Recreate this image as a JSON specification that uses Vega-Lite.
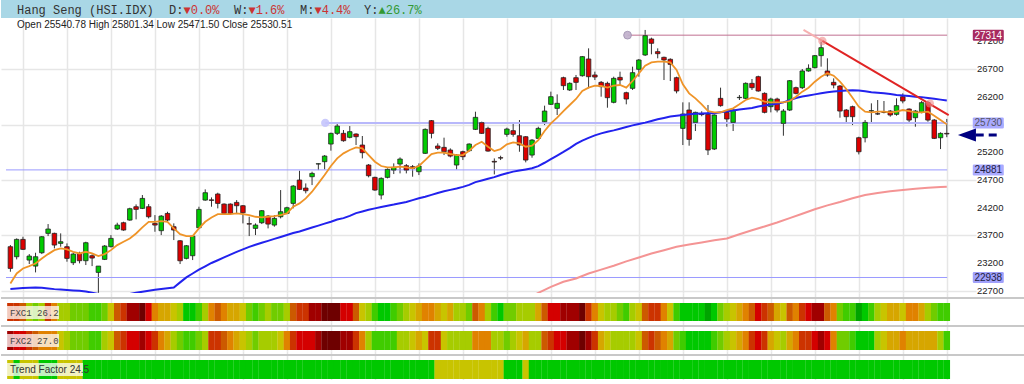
{
"$schema": "https://vega.github.io/schema/vega-lite/v6.json",
"padding": 0,
"autosize": {"type": "pad"},
"background": "white",
"spacing": 0,
"bounds": "flush",
"config": {"view": {"stroke": null}, "axis": {"gridColor": "#e6e6e6", "gridWidth": 1.5, "domain": false, "ticks": false, "labels": false}},
"datasets": {
"bars": [
{"i":0,"o":23494,"h":23524,"l":23042,"c":23102,"m10":22830,"m50":22730,"f1":4,"f2":2,"tf":8},
{"i":1,"o":23313,"h":23644,"l":23265,"c":23626,"m10":23011,"m50":22740,"f1":4,"f2":3,"tf":12},
{"i":2,"o":23626,"h":23674,"l":23434,"c":23446,"m10":23101,"m50":22748,"f1":5,"f2":3,"tf":8},
{"i":3,"o":23253,"h":23361,"l":23181,"c":23325,"m10":23143,"m50":22755,"f1":9,"f2":4,"tf":8},
{"i":4,"o":23144,"h":23385,"l":23030,"c":23313,"m10":23191,"m50":22758,"f1":10,"f2":5,"tf":8},
{"i":5,"o":23385,"h":23686,"l":23361,"c":23674,"m10":23282,"m50":22752,"f1":9,"f2":6,"tf":12},
{"i":6,"o":23735,"h":23903,"l":23686,"c":23813,"m10":23360,"m50":22740,"f1":4,"f2":6,"tf":12},
{"i":7,"o":23735,"h":23747,"l":23464,"c":23524,"m10":23432,"m50":22728,"f1":6,"f2":6,"tf":12},
{"i":8,"o":23554,"h":23735,"l":23494,"c":23584,"m10":23462,"m50":22720,"f1":9,"f2":8,"tf":8},
{"i":9,"o":23494,"h":23554,"l":23223,"c":23283,"m10":23444,"m50":22712,"f1":9,"f2":9,"tf":8},
{"i":10,"o":23205,"h":23385,"l":23163,"c":23361,"m10":23402,"m50":22705,"f1":10,"f2":10,"tf":8},
{"i":11,"o":23373,"h":23403,"l":23193,"c":23241,"m10":23372,"m50":22698,"f1":10,"f2":10,"tf":8},
{"i":12,"o":23241,"h":23584,"l":23163,"c":23566,"m10":23402,"m50":22685,"f1":10,"f2":10,"tf":12},
{"i":13,"o":23331,"h":23355,"l":23144,"c":23289,"m10":23372,"m50":22665,"f1":11,"f2":11,"tf":12},
{"i":14,"o":23030,"h":23144,"l":22661,"c":23144,"m10":23324,"m50":22640,"f1":11,"f2":11,"tf":12},
{"i":15,"o":23265,"h":23524,"l":23253,"c":23506,"m10":23360,"m50":22625,"f1":10,"f2":9,"tf":12},
{"i":16,"o":23494,"h":23704,"l":23482,"c":23644,"m10":23432,"m50":22615,"f1":8,"f2":8,"tf":12},
{"i":17,"o":23813,"h":23927,"l":23795,"c":23885,"m10":23523,"m50":22612,"f1":5,"f2":5,"tf":12},
{"i":18,"o":23927,"h":23945,"l":23783,"c":23795,"m10":23583,"m50":22620,"f1":4,"f2":4,"tf":12},
{"i":19,"o":23975,"h":24198,"l":23963,"c":24180,"m10":23643,"m50":22640,"f1":2,"f2":3,"tf":12},
{"i":20,"o":24216,"h":24258,"l":23987,"c":24168,"m10":23733,"m50":22661,"f1":2,"f2":3,"tf":12},
{"i":21,"o":24186,"h":24427,"l":24174,"c":24366,"m10":23842,"m50":22680,"f1":1,"f2":2,"tf":12},
{"i":22,"o":24216,"h":24264,"l":24005,"c":24035,"m10":23944,"m50":22700,"f1":3,"f2":3,"tf":12},
{"i":23,"o":23915,"h":24065,"l":23764,"c":23885,"m10":23944,"m50":22715,"f1":6,"f2":4,"tf":12},
{"i":24,"o":23783,"h":24065,"l":23704,"c":24047,"m10":23956,"m50":22730,"f1":7,"f2":6,"tf":12},
{"i":25,"o":24095,"h":24125,"l":23945,"c":23975,"m10":23944,"m50":22745,"f1":7,"f2":7,"tf":12},
{"i":26,"o":23855,"h":23915,"l":23614,"c":23795,"m10":23824,"m50":22758,"f1":8,"f2":9,"tf":12},
{"i":27,"o":23601,"h":23613,"l":23181,"c":23240,"m10":23721,"m50":22850,"f1":9,"f2":10,"tf":12},
{"i":28,"o":23283,"h":23524,"l":23265,"c":23511,"m10":23685,"m50":22940,"f1":12,"f2":11,"tf":12},
{"i":29,"o":23331,"h":23698,"l":23253,"c":23686,"m10":23685,"m50":23010,"f1":12,"f2":11,"tf":12},
{"i":30,"o":23837,"h":24216,"l":23819,"c":24168,"m10":23824,"m50":23080,"f1":11,"f2":10,"tf":12},
{"i":31,"o":24336,"h":24529,"l":24324,"c":24469,"m10":23944,"m50":23140,"f1":9,"f2":9,"tf":12},
{"i":32,"o":24340,"h":24384,"l":24216,"c":24330,"m10":24023,"m50":23200,"f1":6,"f2":4,"tf":12},
{"i":33,"o":24445,"h":24469,"l":24186,"c":24276,"m10":24083,"m50":23250,"f1":5,"f2":4,"tf":12},
{"i":34,"o":24264,"h":24276,"l":24083,"c":24095,"m10":24083,"m50":23300,"f1":6,"f2":5,"tf":12},
{"i":35,"o":24264,"h":24276,"l":24083,"c":24095,"m10":24083,"m50":23350,"f1":7,"f2":6,"tf":12},
{"i":36,"o":24294,"h":24336,"l":24095,"c":24234,"m10":24095,"m50":23400,"f1":7,"f2":7,"tf":12},
{"i":37,"o":24234,"h":24246,"l":23915,"c":24107,"m10":24083,"m50":23445,"f1":8,"f2":8,"tf":12},
{"i":38,"o":23910,"h":24035,"l":23686,"c":23902,"m10":24065,"m50":23490,"f1":10,"f2":9,"tf":12},
{"i":39,"o":23825,"h":23915,"l":23704,"c":23885,"m10":24035,"m50":23530,"f1":11,"f2":10,"tf":12},
{"i":40,"o":23927,"h":24156,"l":23903,"c":24144,"m10":24023,"m50":23565,"f1":10,"f2":9,"tf":12},
{"i":41,"o":24047,"h":24065,"l":23825,"c":23903,"m10":24035,"m50":23600,"f1":9,"f2":9,"tf":12},
{"i":42,"o":23885,"h":24065,"l":23855,"c":24005,"m10":24047,"m50":23635,"f1":10,"f2":9,"tf":12},
{"i":43,"o":24035,"h":24517,"l":24005,"c":24126,"m10":24065,"m50":23670,"f1":10,"f2":8,"tf":12},
{"i":44,"o":24096,"h":24216,"l":24083,"c":24198,"m10":24095,"m50":23705,"f1":9,"f2":6,"tf":12},
{"i":45,"o":24276,"h":24607,"l":24186,"c":24589,"m10":24216,"m50":23740,"f1":5,"f2":4,"tf":12},
{"i":46,"o":24698,"h":24866,"l":24517,"c":24529,"m10":24276,"m50":23770,"f1":4,"f2":3,"tf":12},
{"i":47,"o":24553,"h":24637,"l":24457,"c":24505,"m10":24366,"m50":23805,"f1":4,"f2":3,"tf":12},
{"i":48,"o":24758,"h":24848,"l":24607,"c":24818,"m10":24487,"m50":23840,"f1":2,"f2":3,"tf":12},
{"i":49,"o":24987,"h":24999,"l":24878,"c":24992,"m10":24637,"m50":23875,"f1":2,"f2":2,"tf":12},
{"i":50,"o":25029,"h":25149,"l":24890,"c":25131,"m10":24788,"m50":23910,"f1":1,"f2":1,"tf":12},
{"i":51,"o":25348,"h":25553,"l":25228,"c":25541,"m10":24951,"m50":23945,"f1":1,"f2":1,"tf":12},
{"i":52,"o":25541,"h":25734,"l":25511,"c":25673,"m10":25089,"m50":23985,"f1":1,"f2":1,"tf":12},
{"i":53,"o":25541,"h":25601,"l":25390,"c":25408,"m10":25180,"m50":24010,"f1":3,"f2":2,"tf":12},
{"i":54,"o":25469,"h":25673,"l":25451,"c":25571,"m10":25240,"m50":24050,"f1":3,"f2":2,"tf":12},
{"i":55,"o":25529,"h":25541,"l":25330,"c":25481,"m10":25288,"m50":24100,"f1":5,"f2":4,"tf":12},
{"i":56,"o":25330,"h":25493,"l":25089,"c":25192,"m10":25270,"m50":24130,"f1":8,"f2":6,"tf":12},
{"i":57,"o":24969,"h":24987,"l":24746,"c":24776,"m10":25149,"m50":24160,"f1":9,"f2":9,"tf":12},
{"i":58,"o":24746,"h":24758,"l":24505,"c":24517,"m10":25029,"m50":24186,"f1":11,"f2":11,"tf":12},
{"i":59,"o":24427,"h":24746,"l":24348,"c":24728,"m10":24951,"m50":24210,"f1":12,"f2":11,"tf":12},
{"i":60,"o":24746,"h":24908,"l":24728,"c":24891,"m10":24927,"m50":24235,"f1":12,"f2":11,"tf":12},
{"i":61,"o":24878,"h":24999,"l":24806,"c":24927,"m10":24927,"m50":24255,"f1":11,"f2":11,"tf":12},
{"i":62,"o":24987,"h":25107,"l":24818,"c":25077,"m10":24939,"m50":24280,"f1":10,"f2":9,"tf":12},
{"i":63,"o":24957,"h":24987,"l":24818,"c":24878,"m10":24927,"m50":24300,"f1":9,"f2":9,"tf":12},
{"i":64,"o":24939,"h":24969,"l":24758,"c":24908,"m10":24909,"m50":24335,"f1":8,"f2":8,"tf":12},
{"i":65,"o":24848,"h":24999,"l":24788,"c":24951,"m10":24951,"m50":24370,"f1":7,"f2":7,"tf":12},
{"i":66,"o":25180,"h":25631,"l":25168,"c":25613,"m10":25059,"m50":24397,"f1":6,"f2":8,"tf":12},
{"i":67,"o":25770,"h":25782,"l":25450,"c":25541,"m10":25168,"m50":24430,"f1":6,"f2":4,"tf":12},
{"i":68,"o":25312,"h":25360,"l":25240,"c":25270,"m10":25192,"m50":24465,"f1":7,"f2":4,"tf":8},
{"i":69,"o":25288,"h":25463,"l":25149,"c":25210,"m10":25192,"m50":24495,"f1":8,"f2":8,"tf":8},
{"i":70,"o":25240,"h":25270,"l":25107,"c":25131,"m10":25168,"m50":24520,"f1":7,"f2":9,"tf":8},
{"i":71,"o":24969,"h":25168,"l":24890,"c":25149,"m10":25149,"m50":24545,"f1":9,"f2":9,"tf":8},
{"i":72,"o":25210,"h":25228,"l":25059,"c":25119,"m10":25149,"m50":24575,"f1":9,"f2":9,"tf":8},
{"i":73,"o":25228,"h":25360,"l":25210,"c":25348,"m10":25228,"m50":24610,"f1":10,"f2":9,"tf":8},
{"i":74,"o":25613,"h":25932,"l":25601,"c":25830,"m10":25330,"m50":24660,"f1":5,"f2":6,"tf":8},
{"i":75,"o":25734,"h":25752,"l":25529,"c":25541,"m10":25390,"m50":24690,"f1":6,"f2":6,"tf":8},
{"i":76,"o":25631,"h":25661,"l":25210,"c":25221,"m10":25300,"m50":24720,"f1":9,"f2":6,"tf":8},
{"i":77,"o":25035,"h":25089,"l":24800,"c":25023,"m10":25221,"m50":24750,"f1":11,"f2":9,"tf":8},
{"i":78,"o":25101,"h":25137,"l":25059,"c":25095,"m10":25257,"m50":24790,"f1":12,"f2":9,"tf":8},
{"i":79,"o":25523,"h":25643,"l":25480,"c":25619,"m10":25342,"m50":24820,"f1":10,"f2":10,"tf":12},
{"i":80,"o":25589,"h":25721,"l":25480,"c":25523,"m10":25378,"m50":24850,"f1":10,"f2":9,"tf":12},
{"i":81,"o":25498,"h":25782,"l":25209,"c":25330,"m10":25360,"m50":24870,"f1":9,"f2":8,"tf":12},
{"i":82,"o":25480,"h":25492,"l":25017,"c":25059,"m10":25300,"m50":24890,"f1":9,"f2":7,"tf":8},
{"i":83,"o":25149,"h":25438,"l":25101,"c":25420,"m10":25318,"m50":24910,"f1":9,"f2":9,"tf":12},
{"i":84,"o":25450,"h":25661,"l":25438,"c":25631,"m10":25420,"m50":24950,"f1":7,"f2":9,"tf":12},
{"i":85,"o":25751,"h":26041,"l":25691,"c":25944,"m10":25583,"m50":25010,"f1":5,"f2":5,"tf":12},
{"i":86,"o":26065,"h":26294,"l":26053,"c":26203,"m10":25721,"m50":25075,"f1":3,"f2":4,"tf":12},
{"i":87,"o":25992,"h":26245,"l":25872,"c":26083,"m10":25824,"m50":25140,"f1":3,"f2":3,"tf":12},
{"i":88,"o":26546,"h":26564,"l":26324,"c":26402,"m10":25944,"m50":25205,"f1":2,"f2":3,"tf":12},
{"i":89,"o":26324,"h":26462,"l":26306,"c":26444,"m10":26053,"m50":25275,"f1":2,"f2":2,"tf":12},
{"i":90,"o":26546,"h":26595,"l":26324,"c":26462,"m10":26161,"m50":25350,"f1":2,"f2":2,"tf":12},
{"i":91,"o":26582,"h":26938,"l":26564,"c":26926,"m10":26306,"m50":25410,"f1":1,"f2":1,"tf":12},
{"i":92,"o":26884,"h":27076,"l":26354,"c":26564,"m10":26366,"m50":25460,"f1":4,"f2":2,"tf":12},
{"i":93,"o":26595,"h":26655,"l":26504,"c":26558,"m10":26402,"m50":25505,"f1":6,"f2":4,"tf":12},
{"i":94,"o":26462,"h":26486,"l":26203,"c":26384,"m10":26396,"m50":25540,"f1":8,"f2":7,"tf":12},
{"i":95,"o":26444,"h":26474,"l":26004,"c":26185,"m10":26366,"m50":25570,"f1":9,"f2":8,"tf":12},
{"i":96,"o":26101,"h":26564,"l":26083,"c":26534,"m10":26402,"m50":25595,"f1":9,"f2":9,"tf":12},
{"i":97,"o":26552,"h":26655,"l":26414,"c":26504,"m10":26414,"m50":25625,"f1":10,"f2":9,"tf":12},
{"i":98,"o":26275,"h":26293,"l":26065,"c":26161,"m10":26366,"m50":25655,"f1":11,"f2":9,"tf":12},
{"i":99,"o":26354,"h":26745,"l":26324,"c":26637,"m10":26486,"m50":25685,"f1":9,"f2":9,"tf":12},
{"i":100,"o":26697,"h":26884,"l":26564,"c":26866,"m10":26625,"m50":25710,"f1":8,"f2":8,"tf":12},
{"i":101,"o":26956,"h":27408,"l":26938,"c":27305,"m10":26763,"m50":25735,"f1":5,"f2":5,"tf":12},
{"i":102,"o":27245,"h":27269,"l":26968,"c":27167,"m10":26823,"m50":25765,"f1":4,"f2":4,"tf":12},
{"i":103,"o":27016,"h":27076,"l":26896,"c":26980,"m10":26835,"m50":25795,"f1":4,"f2":5,"tf":12},
{"i":104,"o":26914,"h":26926,"l":26504,"c":26866,"m10":26835,"m50":25820,"f1":6,"f2":6,"tf":12},
{"i":105,"o":26878,"h":26896,"l":26486,"c":26787,"m10":26823,"m50":25845,"f1":8,"f2":7,"tf":12},
{"i":106,"o":26546,"h":26564,"l":26263,"c":26306,"m10":26685,"m50":25860,"f1":11,"f2":10,"tf":12},
{"i":107,"o":25631,"h":26101,"l":25330,"c":25890,"m10":26426,"m50":25872,"f1":12,"f2":11,"tf":12},
{"i":108,"o":25962,"h":26101,"l":25318,"c":25432,"m10":26263,"m50":25885,"f1":12,"f2":12,"tf":12},
{"i":109,"o":25739,"h":25932,"l":25583,"c":25920,"m10":26173,"m50":25895,"f1":12,"f2":12,"tf":12},
{"i":110,"o":25890,"h":25940,"l":25850,"c":25880,"m10":26065,"m50":25900,"f1":12,"f2":12,"tf":12},
{"i":111,"o":25884,"h":26053,"l":25149,"c":25240,"m10":25944,"m50":25902,"f1":13,"f2":12,"tf":12},
{"i":112,"o":25258,"h":25884,"l":25240,"c":25872,"m10":25920,"m50":25905,"f1":12,"f2":11,"tf":12},
{"i":113,"o":26173,"h":26366,"l":26023,"c":26041,"m10":25920,"m50":25920,"f1":10,"f2":10,"tf":12},
{"i":114,"o":25920,"h":25944,"l":25661,"c":25800,"m10":25962,"m50":25940,"f1":9,"f2":9,"tf":12},
{"i":115,"o":25739,"h":25980,"l":25583,"c":25962,"m10":25992,"m50":25955,"f1":8,"f2":8,"tf":12},
{"i":116,"o":26185,"h":26233,"l":26143,"c":26191,"m10":26065,"m50":25970,"f1":7,"f2":7,"tf":12},
{"i":117,"o":26173,"h":26462,"l":26161,"c":26444,"m10":26143,"m50":25985,"f1":6,"f2":6,"tf":12},
{"i":118,"o":26444,"h":26522,"l":26324,"c":26366,"m10":26185,"m50":26000,"f1":5,"f2":4,"tf":12},
{"i":119,"o":26564,"h":26582,"l":26293,"c":26306,"m10":26161,"m50":26025,"f1":3,"f2":3,"tf":12},
{"i":120,"o":26263,"h":26281,"l":25902,"c":25920,"m10":26113,"m50":26045,"f1":4,"f2":4,"tf":12},
{"i":121,"o":26023,"h":26185,"l":25920,"c":26161,"m10":26101,"m50":26060,"f1":5,"f2":7,"tf":12},
{"i":122,"o":26161,"h":26185,"l":25920,"c":25962,"m10":26101,"m50":26075,"f1":7,"f2":8,"tf":12},
{"i":123,"o":25721,"h":25980,"l":25498,"c":25944,"m10":26101,"m50":26100,"f1":8,"f2":9,"tf":12},
{"i":124,"o":25962,"h":26504,"l":25944,"c":26492,"m10":26125,"m50":26140,"f1":5,"f2":7,"tf":12},
{"i":125,"o":26366,"h":26384,"l":26245,"c":26263,"m10":26203,"m50":26180,"f1":6,"f2":6,"tf":12},
{"i":126,"o":26366,"h":26703,"l":26341,"c":26667,"m10":26294,"m50":26205,"f1":4,"f2":4,"tf":12},
{"i":127,"o":26667,"h":26787,"l":26655,"c":26715,"m10":26366,"m50":26225,"f1":3,"f2":4,"tf":12},
{"i":128,"o":26727,"h":26956,"l":26715,"c":26944,"m10":26474,"m50":26245,"f1":2,"f2":3,"tf":12},
{"i":129,"o":26944,"h":27197,"l":26745,"c":27088,"m10":26564,"m50":26265,"f1":2,"f2":2,"tf":12},
{"i":130,"o":26667,"h":26896,"l":26564,"c":26594,"m10":26625,"m50":26285,"f1":5,"f2":3,"tf":12},
{"i":131,"o":26462,"h":26534,"l":26354,"c":26414,"m10":26582,"m50":26295,"f1":6,"f2":6,"tf":12},
{"i":132,"o":26396,"h":26414,"l":25824,"c":25944,"m10":26474,"m50":26305,"f1":10,"f2":10,"tf":12},
{"i":133,"o":25962,"h":25980,"l":25739,"c":25842,"m10":26342,"m50":26315,"f1":11,"f2":10,"tf":12},
{"i":134,"o":26023,"h":26041,"l":25691,"c":25842,"m10":26185,"m50":26318,"f1":11,"f2":11,"tf":12},
{"i":135,"o":25462,"h":25480,"l":25161,"c":25209,"m10":26023,"m50":26315,"f1":13,"f2":12,"tf":12},
{"i":136,"o":25462,"h":25782,"l":25378,"c":25739,"m10":25932,"m50":26300,"f1":12,"f2":12,"tf":12},
{"i":137,"o":25944,"h":26083,"l":25739,"c":25950,"m10":25920,"m50":26285,"f1":11,"f2":12,"tf":12},
{"i":138,"o":25895,"h":26143,"l":25872,"c":25890,"m10":25932,"m50":26275,"f1":9,"f2":9,"tf":12},
{"i":139,"o":25926,"h":26125,"l":25902,"c":25920,"m10":25932,"m50":26265,"f1":8,"f2":8,"tf":12},
{"i":140,"o":25944,"h":25962,"l":25842,"c":25872,"m10":25920,"m50":26250,"f1":7,"f2":7,"tf":12},
{"i":141,"o":25884,"h":26173,"l":25860,"c":26041,"m10":25932,"m50":26235,"f1":7,"f2":7,"tf":12},
{"i":142,"o":26203,"h":26263,"l":26083,"c":26125,"m10":25962,"m50":26225,"f1":8,"f2":6,"tf":12},
{"i":143,"o":25980,"h":25992,"l":25721,"c":25781,"m10":25944,"m50":26215,"f1":6,"f2":7,"tf":12},
{"i":144,"o":25824,"h":25962,"l":25661,"c":25944,"m10":25920,"m50":26203,"f1":6,"f2":7,"tf":12},
{"i":145,"o":25920,"h":26125,"l":25902,"c":26095,"m10":25920,"m50":26195,"f1":7,"f2":7,"tf":12},
{"i":146,"o":26095,"h":26125,"l":25751,"c":25781,"m10":25932,"m50":26180,"f1":9,"f2":7,"tf":12},
{"i":147,"o":25781,"h":25800,"l":25438,"c":25450,"m10":25860,"m50":26165,"f1":10,"f2":7,"tf":12},
{"i":148,"o":25462,"h":25559,"l":25257,"c":25540,"m10":25782,"m50":26150,"f1":11,"f2":9,"tf":12},
{"i":149,"o":25540.78,"h":25801.34,"l":25471.5,"c":25530.51,"m10":25703,"m50":26135,"f1":11,"f2":11,"tf":12}
],
"ma200": [
{"i":82,"v":22540},{"i":84,"v":22660},{"i":86,"v":22770},{"i":88,"v":22860},{"i":90,"v":22920},{"i":92,"v":23010},{"i":94,"v":23080},{"i":96,"v":23150},{"i":98,"v":23230},{"i":100,"v":23300},{"i":102,"v":23370},{"i":104,"v":23430},{"i":106,"v":23493},{"i":108,"v":23535},{"i":110,"v":23570},{"i":112,"v":23610},{"i":114,"v":23643},{"i":116,"v":23720},{"i":118,"v":23790},{"i":120,"v":23860},{"i":122,"v":23930},{"i":124,"v":24010},{"i":126,"v":24090},{"i":128,"v":24170},{"i":130,"v":24240},{"i":132,"v":24300},{"i":134,"v":24370},{"i":136,"v":24427},{"i":138,"v":24465},{"i":140,"v":24495},{"i":142,"v":24520},{"i":144,"v":24540},{"i":146,"v":24557},{"i":148,"v":24570},{"i":149,"v":24577}
]
},
"vconcat": [
{
"width": 1024, "height": 18,
"data": {"values": [{}]},
"layer": [
{"mark": {"type": "rect", "fill": "#a9d7e6"}, "encoding": {"x": {"value": 0}, "x2": {"value": 1024}, "y": {"value": 0}, "y2": {"value": 18}}},
{"mark": {"type": "text", "font": "Liberation Mono", "fontSize": 12, "align": "left", "baseline": "middle", "fill": "#333"}, "encoding": {"x": {"value": 16}, "y": {"value": 9.5}, "text": {"value": "Hang Seng (HSI.IDX)"}}},
{"mark": {"type": "text", "font": "Liberation Mono", "fontSize": 12, "align": "left", "baseline": "middle", "fill": "#333"}, "encoding": {"x": {"value": 168}, "y": {"value": 9.5}, "text": {"value": "D:"}}},
{"mark": {"type": "text", "font": "Liberation Mono", "fontSize": 12, "align": "left", "baseline": "middle", "fill": "#cc3333"}, "encoding": {"x": {"value": 182.5}, "y": {"value": 9.5}, "text": {"value": "▼0.0%"}}},
{"mark": {"type": "text", "font": "Liberation Mono", "fontSize": 12, "align": "left", "baseline": "middle", "fill": "#333"}, "encoding": {"x": {"value": 233}, "y": {"value": 9.5}, "text": {"value": "W:"}}},
{"mark": {"type": "text", "font": "Liberation Mono", "fontSize": 12, "align": "left", "baseline": "middle", "fill": "#cc3333"}, "encoding": {"x": {"value": 247.5}, "y": {"value": 9.5}, "text": {"value": "▼1.6%"}}},
{"mark": {"type": "text", "font": "Liberation Mono", "fontSize": 12, "align": "left", "baseline": "middle", "fill": "#333"}, "encoding": {"x": {"value": 299}, "y": {"value": 9.5}, "text": {"value": "M:"}}},
{"mark": {"type": "text", "font": "Liberation Mono", "fontSize": 12, "align": "left", "baseline": "middle", "fill": "#cc3333"}, "encoding": {"x": {"value": 313.5}, "y": {"value": 9.5}, "text": {"value": "▼4.4%"}}},
{"mark": {"type": "text", "font": "Liberation Mono", "fontSize": 12, "align": "left", "baseline": "middle", "fill": "#333"}, "encoding": {"x": {"value": 363}, "y": {"value": 9.5}, "text": {"value": "Y:"}}},
{"mark": {"type": "text", "font": "Liberation Mono", "fontSize": 12, "align": "left", "baseline": "middle", "fill": "#339933"}, "encoding": {"x": {"value": 377.5}, "y": {"value": 9.5}, "text": {"value": "▲26.7%"}}}
]
},
{
"width": 975, "height": 275,
"data": {"name": "bars"},
"layer": [
{"mark": {"type": "rule", "color": "#333", "strokeWidth": 1},
 "encoding": {
  "x": {"field": "i", "type": "quantitative", "title": null, "scale": {"domain": [-0.7, 152.85], "nice": false, "zero": false}, "axis": {"values": [2,9,16,23,30,37,44,51,58,65,72,79,86,93,100,107,114,121,128,135,142,149], "grid": true, "title": null}},
  "y": {"field": "l", "type": "quantitative", "title": null, "scale": {"domain": [22658, 27624], "nice": false, "zero": false}, "axis": {"orient": "right", "values": [22700,23200,23700,24200,24700,25200,25700,26200,26700,27200], "grid": true, "title": null}},
  "y2": {"field": "h"}}},
{"data": {"values": [{"t": 22700}, {"t": 23200}, {"t": 23700}, {"t": 24200}, {"t": 24700}, {"t": 25200}, {"t": 25700}, {"t": 26200}, {"t": 26700}, {"t": 27200}]},
 "mark": {"type": "text", "font": "Liberation Sans", "fontSize": 9.5, "align": "left", "baseline": "middle", "dx": 6, "fill": "#222"},
 "encoding": {"x": {"datum": 152.85, "type": "quantitative", "title": null}, "y": {"field": "t", "type": "quantitative", "title": null}, "text": {"field": "t", "type": "quantitative", "format": "d"}}},
{"data": {"values": [{"x1": -0.7, "x2": 149.05, "y": 24881}, {"x1": -0.7, "x2": 149.05, "y": 22938}]},
 "mark": {"type": "rule", "color": "#9a9aff", "strokeWidth": 1},
 "encoding": {"x": {"field": "x1", "type": "quantitative", "title": null}, "x2": {"field": "x2"}, "y": {"field": "y", "type": "quantitative", "title": null}}},
{"data": {"values": [{"x1": 50.1, "x2": 149.05, "y": 25730}]},
 "mark": {"type": "rule", "color": "#b8b8fb", "strokeWidth": 2},
 "encoding": {"x": {"field": "x1", "type": "quantitative", "title": null}, "x2": {"field": "x2"}, "y": {"field": "y", "type": "quantitative", "title": null}}},
{"data": {"values": [{"x1": 98.2, "x2": 149.05, "y": 27314}]},
 "mark": {"type": "rule", "color": "#c07090", "strokeWidth": 1},
 "encoding": {"x": {"field": "x1", "type": "quantitative", "title": null}, "x2": {"field": "x2"}, "y": {"field": "y", "type": "quantitative", "title": null}}},
{"data": {"name": "ma200"},
 "mark": {"type": "line", "color": "#f49494", "strokeWidth": 2, "clip": true},
 "encoding": {"x": {"field": "i", "type": "quantitative", "title": null}, "y": {"field": "v", "type": "quantitative", "title": null}}},
{"mark": {"type": "bar", "orient": "vertical", "size": 4.5, "stroke": "#222", "strokeWidth": 0.8},
 "encoding": {"x": {"field": "i", "type": "quantitative", "title": null}, "y": {"field": "o", "type": "quantitative", "title": null}, "y2": {"field": "c"},
  "color": {"condition": {"test": "datum.c >= datum.o", "value": "#00cc00"}, "value": "#dd0000"}}},
{"mark": {"type": "line", "color": "#2222ee", "strokeWidth": 2, "clip": true},
 "encoding": {"x": {"field": "i", "type": "quantitative", "title": null}, "y": {"field": "m50", "type": "quantitative", "title": null}}},
{"mark": {"type": "line", "color": "#ef9428", "strokeWidth": 1.8, "clip": true},
 "encoding": {"x": {"field": "i", "type": "quantitative", "title": null}, "y": {"field": "m10", "type": "quantitative", "title": null}}},
{"data": {"values": [{"x1": 126.2, "y1": 27408, "x2": 129.2, "y2": 27209}]},
 "mark": {"type": "rule", "color": "#f6b0b0", "strokeWidth": 2},
 "encoding": {"x": {"field": "x1", "type": "quantitative", "title": null}, "y": {"field": "y1", "type": "quantitative", "title": null}, "x2": {"field": "x2"}, "y2": {"field": "y2"}}},
{"data": {"values": [{"x1": 129.2, "y1": 27209, "x2": 149.3, "y2": 25872}]},
 "mark": {"type": "rule", "color": "#e02424", "strokeWidth": 2},
 "encoding": {"x": {"field": "x1", "type": "quantitative", "title": null}, "y": {"field": "y1", "type": "quantitative", "title": null}, "x2": {"field": "x2"}, "y2": {"field": "y2"}}},
{"data": {"values": [{"x": 129.2, "y": 27209}, {"x": 146.3, "y": 26083}]},
 "mark": {"type": "point", "filled": true, "color": "#f08888", "opacity": 0.6, "size": 70},
 "encoding": {"x": {"field": "x", "type": "quantitative", "title": null}, "y": {"field": "y", "type": "quantitative", "title": null}}},
{"data": {"values": [{"x": 50.1, "y": 25730}]},
 "mark": {"type": "point", "filled": true, "color": "#c4c4fc", "opacity": 0.9, "size": 70},
 "encoding": {"x": {"field": "x", "type": "quantitative", "title": null}, "y": {"field": "y", "type": "quantitative", "title": null}}},
{"data": {"values": [{"x": 98.2, "y": 27314}]},
 "mark": {"type": "point", "filled": true, "color": "#c0b0cc", "stroke": "#a090b0", "strokeWidth": 1, "opacity": 0.9, "size": 60},
 "encoding": {"x": {"field": "x", "type": "quantitative", "title": null}, "y": {"field": "y", "type": "quantitative", "title": null}}},
{"data": {"values": [{"v": 27314}, {"v": 25730}, {"v": 24881}, {"v": 22938}]},
 "mark": {"type": "point", "filled": true, "opacity": 1, "size": 961, "shape": "M-0.92,-0.355L0.92,-0.355Q1,-0.355 1,-0.275L1,0.275Q1,0.355 0.92,0.355L-0.92,0.355Q-1,0.355 -1,0.275L-1,-0.275Q-1,-0.355 -0.92,-0.355Z"},
 "encoding": {"x": {"datum": 155.6, "type": "quantitative", "title": null}, "y": {"field": "v", "type": "quantitative", "title": null},
  "color": {"field": "v", "type": "nominal", "legend": null, "scale": {"domain": [27314, 25730, 24881, 22938], "range": ["#a82a60", "#aaaaff", "#aaaaff", "#a0a0fa"]}}}},
{"data": {"values": [{"v": 27314}, {"v": 25730}, {"v": 24881}, {"v": 22938}]},
 "mark": {"type": "text", "font": "Liberation Sans", "fontSize": 10, "align": "center", "baseline": "middle", "dy": 0.5},
 "encoding": {"x": {"datum": 155.6, "type": "quantitative", "title": null}, "y": {"field": "v", "type": "quantitative", "title": null}, "text": {"field": "v", "type": "quantitative", "format": "d"},
  "fill": {"field": "v", "type": "nominal", "legend": null, "scale": {"domain": [27314, 25730, 24881, 22938], "range": ["#ffffff", "#555566", "#222244", "#222244"]}}}},
{"data": {"values": [{}]},
 "mark": {"type": "point", "filled": true, "color": "#000080", "opacity": 1, "size": 324, "shape": "M-1,0L1,-0.72L1,0.72Z"},
 "encoding": {"x": {"datum": 152.2, "type": "quantitative", "title": null}, "y": {"datum": 25510, "type": "quantitative", "title": null}}},
{"data": {"values": [{}]},
 "mark": {"type": "rule", "color": "#000080", "strokeWidth": 3, "strokeDash": [8, 5]},
 "encoding": {"x": {"datum": 153.6, "type": "quantitative", "title": null}, "x2": {"datum": 157.6}, "y": {"datum": 25510, "type": "quantitative", "title": null}}},
{"data": {"values": [{}]},
 "mark": {"type": "text", "font": "Liberation Sans", "fontSize": 10, "align": "left", "baseline": "middle", "fill": "#222"},
 "encoding": {"x": {"value": 16}, "y": {"value": 6.5}, "text": {"value": "Open 25540.78  High 25801.34  Low 25471.50  Close 25530.51"}}}
]
},
{
"width": 975, "height": 29,
"data": {"name": "bars"},
"layer": [
{"mark": {"type": "rule", "color": "#c8c8c8", "strokeWidth": 2},
 "encoding": {"x": {"value": 0}, "x2": {"value": 1024}, "y": {"value": 5}}},
{"mark": {"type": "bar", "orient": "vertical", "size": 6.5},
 "encoding": {"x": {"field": "i", "type": "quantitative", "title": null, "scale": {"domain": [-0.7, 152.85], "nice": false, "zero": false}, "axis": {"values": [2,9,16,23,30,37,44,51,58,65,72,79,86,93,100,107,114,121,128,135,142,149], "grid": true, "title": null}},
  "y": {"value": 10}, "y2": {"value": 28},
  "color": {"field": "f1", "type": "ordinal", "legend": null, "scale": {"domain": [1,2,3,4,5,6,7,8,9,10,11,12,13], "range": ["#6e0000","#a00000","#d40000","#cc3300","#cc5a00","#e08200","#d6a600","#c8c400","#a6cc00","#70cc00","#40cc00","#00c800","#00a400"]}}}},
{"data": {"values": [{}]}, "mark": {"type": "rect", "fill": "#ffffff", "fillOpacity": 0.75},
 "encoding": {"x": {"value": 5}, "x2": {"value": 58}, "y": {"value": 13}, "y2": {"value": 26}}},
{"data": {"values": [{}]}, "mark": {"type": "text", "font": "Liberation Mono", "fontSize": 9, "align": "left", "baseline": "middle", "fill": "#444"},
 "encoding": {"x": {"value": 9}, "y": {"value": 19.5}, "text": {"value": "FXC1 26.2"}}}
]
},
{
"width": 975, "height": 29,
"data": {"name": "bars"},
"layer": [
{"mark": {"type": "rule", "color": "#c8c8c8", "strokeWidth": 2},
 "encoding": {"x": {"value": 0}, "x2": {"value": 1024}, "y": {"value": 4}}},
{"mark": {"type": "bar", "orient": "vertical", "size": 6.5},
 "encoding": {"x": {"field": "i", "type": "quantitative", "title": null, "scale": {"domain": [-0.7, 152.85], "nice": false, "zero": false}, "axis": {"values": [2,9,16,23,30,37,44,51,58,65,72,79,86,93,100,107,114,121,128,135,142,149], "grid": true, "title": null}},
  "y": {"value": 9}, "y2": {"value": 28},
  "color": {"field": "f2", "type": "ordinal", "legend": null, "scale": {"domain": [1,2,3,4,5,6,7,8,9,10,11,12,13], "range": ["#6e0000","#a00000","#d40000","#cc3300","#cc5a00","#e08200","#d6a600","#c8c400","#a6cc00","#70cc00","#40cc00","#00c800","#00a400"]}}}},
{"data": {"values": [{}]}, "mark": {"type": "rect", "fill": "#ffffff", "fillOpacity": 0.75},
 "encoding": {"x": {"value": 5}, "x2": {"value": 58}, "y": {"value": 12}, "y2": {"value": 25}}},
{"data": {"values": [{}]}, "mark": {"type": "text", "font": "Liberation Mono", "fontSize": 9, "align": "left", "baseline": "middle", "fill": "#444"},
 "encoding": {"x": {"value": 9}, "y": {"value": 18.5}, "text": {"value": "FXC2 27.0"}}}
]
},
{
"width": 975, "height": 29,
"data": {"name": "bars"},
"layer": [
{"mark": {"type": "rule", "color": "#c8c8c8", "strokeWidth": 2},
 "encoding": {"x": {"value": 0}, "x2": {"value": 1024}, "y": {"value": 4}}},
{"mark": {"type": "bar", "orient": "vertical", "size": 6.5},
 "encoding": {"x": {"field": "i", "type": "quantitative", "title": null, "scale": {"domain": [-0.7, 152.85], "nice": false, "zero": false}, "axis": {"values": [2,9,16,23,30,37,44,51,58,65,72,79,86,93,100,107,114,121,128,135,142,149], "grid": true, "title": null}},
  "y": {"value": 9}, "y2": {"value": 28},
  "color": {"field": "tf", "type": "ordinal", "legend": null, "scale": {"domain": [1,2,3,4,5,6,7,8,9,10,11,12,13], "range": ["#6e0000","#a00000","#d40000","#cc3300","#cc5a00","#e08200","#d6a600","#c8c400","#a6cc00","#70cc00","#40cc00","#00c800","#00a400"]}}}},
{"data": {"values": [{}]}, "mark": {"type": "rect", "fill": "#ffffff", "fillOpacity": 0.75},
 "encoding": {"x": {"value": 5}, "x2": {"value": 82}, "y": {"value": 12}, "y2": {"value": 25}}},
{"data": {"values": [{}]}, "mark": {"type": "text", "font": "Liberation Sans", "fontSize": 10, "align": "left", "baseline": "middle", "fill": "#333"},
 "encoding": {"x": {"value": 9}, "y": {"value": 18.5}, "text": {"value": "Trend Factor 24.5"}}}
]
}
],
"resolve": {"scale": {"x": "independent", "y": "independent", "color": "independent"}}
}
